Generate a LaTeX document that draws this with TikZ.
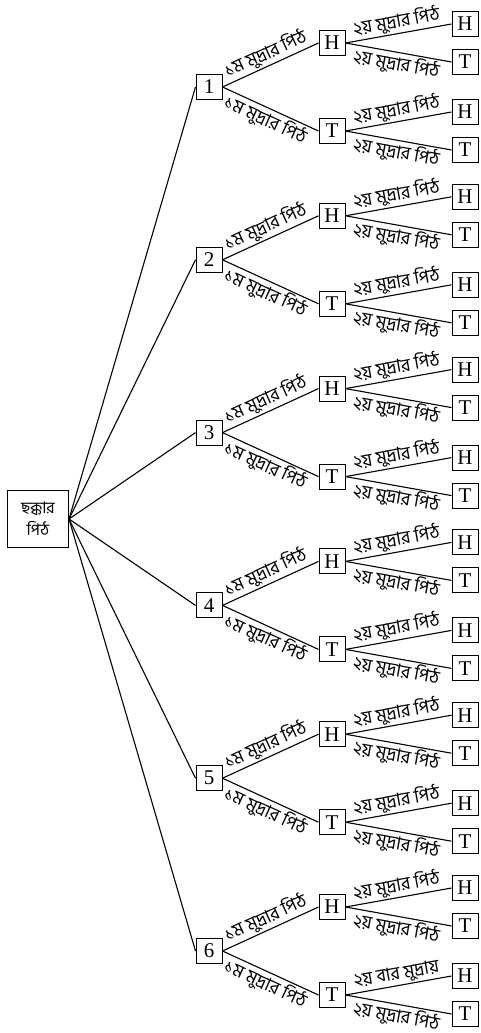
\documentclass[tikz,border=0pt]{standalone}
\usepackage{fontspec}
\setmainfont{Liberation Serif}
\newfontfamily\bn[Script=Bengali]{Hind Siliguri}
\begin{document}
\begin{tikzpicture}[x=1pt,y=-1pt,
  box/.style={draw,line width=1pt,minimum width=26pt,minimum height=25pt,inner sep=1pt,font=\fontsize{21}{21}\selectfont},
  rootbox/.style={draw,line width=1pt,minimum width=61pt,minimum height=57pt,align=center,inner sep=1pt,font=\bn\fontsize{16}{22}\selectfont},
  edge/.style={line width=1.1pt},
  lab/.style={sloped,midway,inner sep=1.5pt,font=\bn\fontsize{18}{18}\selectfont}]
\useasboundingbox (0,0) rectangle (480,1033);
\node[rootbox] (root) at (38,519) {ছক্কার\\পিঠ};
\foreach \i in {1,...,6}{
  \pgfmathsetmacro{\g}{87+172.8*(\i-1)}
  \node[box] (g\i) at (209,\g) {\i};
  \node[box] (h\i) at (332,\g-44) {H};
  \node[box] (t\i) at (332,\g+44) {T};
  \node[box] (hh\i) at (465,\g-63) {H};
  \node[box] (ht\i) at (465,\g-25) {T};
  \node[box] (th\i) at (465,\g+25) {H};
  \node[box] (tt\i) at (465,\g+63) {T};
  \draw[edge] (root.east) -- (g\i.west);
  \draw[edge] (g\i.east) -- node[lab,above]{১ম মুদ্রার পিঠ} (h\i.west);
  \draw[edge] (g\i.east) -- node[lab,below]{১ম মুদ্রার পিঠ} (t\i.west);
  \draw[edge] (h\i.east) -- node[lab,above]{২য় মুদ্রার পিঠ} (hh\i.west);
  \draw[edge] (h\i.east) -- node[lab,below]{২য় মুদ্রার পিঠ} (ht\i.west);
  \draw[edge] (t\i.east) -- node[lab,below]{২য় মুদ্রার পিঠ} (tt\i.west);
}
\foreach \i in {1,...,5}{
  \draw[edge] (t\i.east) -- node[lab,above]{২য় মুদ্রার পিঠ} (th\i.west);
}
\draw[edge] (t6.east) -- node[lab,above]{২য় বার মুদ্রায়} (th6.west);
\end{tikzpicture}
\end{document}
